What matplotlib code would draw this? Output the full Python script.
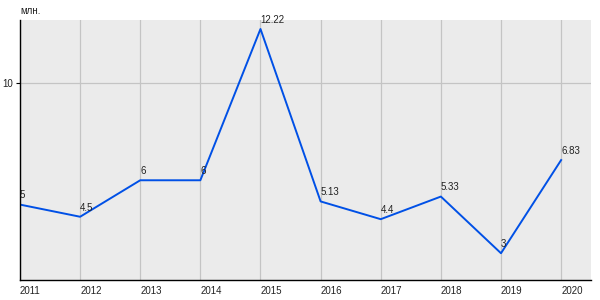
import matplotlib
matplotlib.use('Agg')
import matplotlib.pyplot as plt

plt.rcParams['font.family'] = ['Liberation Sans', 'DejaVu Sans']

years = [2011, 2012, 2013, 2014, 2015, 2016, 2017, 2018, 2019, 2020]
values = [5, 4.5, 6, 6, 12.22, 5.13, 4.4, 5.33, 3, 6.83]
labels = ["5", "4.5", "6", "6", "12.22", "5.13", "4.4", "5.33", "3", "6.83"]

fig = plt.figure(figsize=(6, 3), dpi=100)
ax = fig.add_axes([0.0333, 0.0667, 0.952, 0.8667])
ax.set_facecolor("#EBEBEB")

ax.plot(years, values, color="#0050E6", linewidth=1.4)
for x, y, s in zip(years, values, labels):
    ax.annotate(s, (x, y), xytext=(0, 3), textcoords="offset points",
                ha="left", va="bottom", fontsize=7, color="#222")

ax.set_xlim(2011, 2020.5)
ax.set_ylim(1.9, 12.59)
ax.set_xticks(years)
ax.set_xticklabels([str(y) for y in years], ha="left", fontsize=7, color="#222")
ax.set_yticks([10])
ax.set_yticklabels(["10"], fontsize=7, color="#222")
ax.tick_params(axis="x", length=0, pad=4)
ax.tick_params(axis="y", length=3, width=0.8, pad=2)
ax.grid(color="#C4C4C4", linewidth=0.9)
ax.set_axisbelow(True)
for side in ["top", "right"]:
    ax.spines[side].set_visible(False)
for side in ["left", "bottom"]:
    ax.spines[side].set_linewidth(1)
    ax.spines[side].set_color("black")

fig.text(0.0333, 0.945, "млн.", fontsize=7, color="#222", ha="left", va="bottom")

fig.savefig("out.png", dpi=100)
